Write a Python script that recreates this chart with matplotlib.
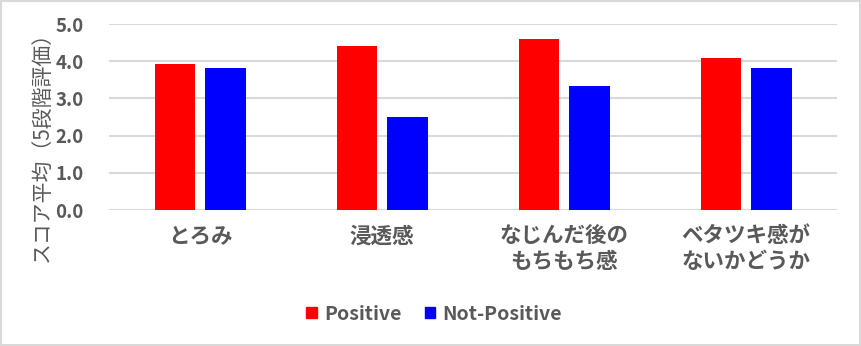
import matplotlib
matplotlib.use("Agg")
import matplotlib.pyplot as plt
from matplotlib.patches import Rectangle, Patch
import numpy as np

plt.rcParams['font.family'] = ['Noto Sans CJK JP', 'DejaVu Sans']

categories = ["とろみ", "浸透感", "なじんだ後の\nもちもち感", "ベタツキ感が\nないかどうか"]
positive = [3.92, 4.41, 4.60, 4.09]
not_positive = [3.82, 2.50, 3.33, 3.82]
series_names = ["Positive", "Not-Positive"]
yticks = [0.0, 1.0, 2.0, 3.0, 4.0, 5.0]
ylabel = "スコア平均（5段階評価）"

TXT = "#595959"
GRID = "#d9d9d9"

fig = plt.figure(figsize=(8.61, 3.46), dpi=100)
ax = fig.add_axes([109/861, 1-210/346, (837-109)/861, (210-24)/346])

x = np.arange(len(categories))
w = 0.22
off = 0.14
ax.bar(x - off, positive, width=w, color="#ff0000", label=series_names[0], zorder=3)
ax.bar(x + off, not_positive, width=w, color="#0000ff", label=series_names[1], zorder=3)

ax.set_xlim(-0.5, len(categories) - 0.5)
ax.set_ylim(0, 5)
ax.set_yticks(yticks)
ax.set_yticklabels([f"{v:.1f}" for v in yticks], fontsize=13.5, fontweight="bold", color=TXT)
ax.set_xticks(x)
ax.set_xticklabels(categories, fontsize=15.5, fontweight="bold", color=TXT, linespacing=1.25)
ax.tick_params(axis='y', length=0, pad=18)
ax.tick_params(axis='x', length=0, pad=11)
ax.grid(axis='y', color=GRID, linewidth=1.5, zorder=0)
for s in ax.spines.values():
    s.set_visible(False)

fig.text(42/861, 1-141/346, ylabel, rotation=90, ha='center', va='center',
         fontsize=15, color=TXT)

leg = fig.legend(handles=[Patch(color="#ff0000", label=series_names[0]),
                          Patch(color="#0000ff", label=series_names[1])],
                 loc='center', bbox_to_anchor=(434/861, 1-314/346), ncol=2, frameon=False,
                 handlelength=0.55, handleheight=0.55, handletextpad=0.35, columnspacing=1.2,
                 prop={'size': 14, 'weight': 'bold'})
for t in leg.get_texts():
    t.set_color(TXT)

fig.patches.append(Rectangle((0.0015, 0.003), 0.997, 0.993, transform=fig.transFigure,
                             fill=False, edgecolor=GRID, linewidth=1.5))

fig.savefig("out.png", dpi=100)
